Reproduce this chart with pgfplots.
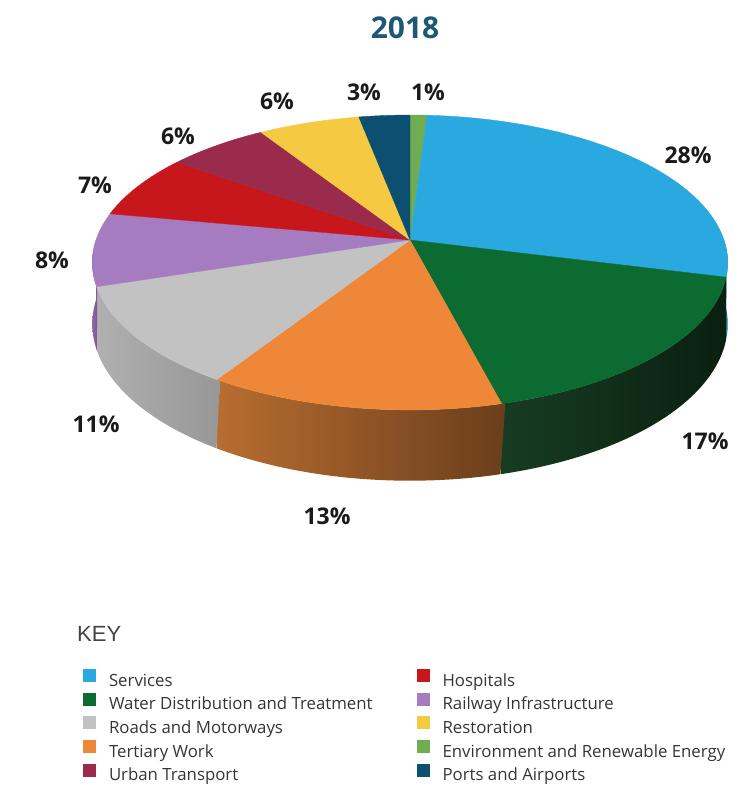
\documentclass[border=0pt]{standalone}
\usepackage{fontspec}
\setmainfont{Open Sans}
\newfontfamily\keyfont{Liberation Sans}
\usepackage{pgfplots}
\pgfplotsset{compat=1.18}

\definecolor{services}{HTML}{2AA8E0}
\definecolor{water}{HTML}{0B6B31}
\definecolor{tertiary}{HTML}{EE8838}
\definecolor{roads}{HTML}{C2C2C2}
\definecolor{railway}{HTML}{A67CC1}
\definecolor{hospitals}{HTML}{C8161D}
\definecolor{urban}{HTML}{9B2B4D}
\definecolor{restoration}{HTML}{F5C942}
\definecolor{envg}{HTML}{70AD52}
\definecolor{ports}{HTML}{0C4F70}
\definecolor{titleblue}{HTML}{1D5877}
\definecolor{labblack}{HTML}{1A1A1A}
\definecolor{legendgray}{HTML}{353535}
\definecolor{keygray}{HTML}{444444}
\definecolor{servsideA}{HTML}{1F80AD}
\definecolor{servsideB}{HTML}{186A8F}
\definecolor{watersideA}{HTML}{173C22}
\definecolor{watersideB}{HTML}{0A2010}
\definecolor{tertsideA}{HTML}{B86D30}
\definecolor{tertsideB}{HTML}{6A3E1C}
\definecolor{roadsideA}{HTML}{B0B0B0}
\definecolor{roadsideB}{HTML}{979797}
\definecolor{railsideA}{HTML}{8E67A8}
\definecolor{railsideB}{HTML}{7C5694}

\tikzset{
  envg side/.style={fill=envg!60!black},
  services side/.style={left color=servsideA, right color=servsideB},
  water side/.style={left color=watersideA, right color=watersideB},
  tertiary side/.style={left color=tertsideA, right color=tertsideB},
  roads side/.style={left color=roadsideA, right color=roadsideB},
  railway side/.style={left color=railsideA, right color=railsideB},
  hospitals side/.style={fill=hospitals!70!black},
  urban side/.style={fill=urban!70!black},
  restoration side/.style={fill=restoration!70!black},
  ports side/.style={fill=ports!70!black},
  lab/.style={font=\fontsize{23}{27}\selectfont\bfseries, text=labblack},
}
\pgfplotsset{sq/.style={legend image code/.code={\fill[##1, draw=none] (0pt,-0.5pt) rectangle (13pt,12.5pt);}}}

% running cumulative percentage
\gdef\cumpct{0}
\newcommand\topslice[2]{%
  \pgfmathsetmacro\angA{90-3.6*\cumpct}%
  \pgfmathsetmacro\cumnew{\cumpct+#1}%
  \xdef\cumpct{\cumnew}%
  \pgfmathsetmacro\angB{90-3.6*\cumpct}%
  \edef\tmp{\noexpand\addplot[forget plot, fill=#2, draw=#2, line width=0.4pt, line join=round, domain=\angB:\angA, samples=60] ({px(x)},{py(x)}) -- (axis cs:410,240) -- cycle;}%
  \tmp}
\newcommand\sideslice[2]{%
  \pgfmathsetmacro\angA{90-3.6*\cumpct}%
  \pgfmathsetmacro\cumnew{\cumpct+#1}%
  \xdef\cumpct{\cumnew}%
  \pgfmathsetmacro\angB{90-3.6*\cumpct}%
  \pgfmathsetmacro\lo{max(\angB,-180)}%
  \pgfmathsetmacro\hi{min(\angA+0.6,0.6)}%
  \ifdim\lo pt<\hi pt
    \edef\tmp{\noexpand\addplot[forget plot, #2 side, draw=none, domain=0:2, samples=121] ({px(ph(x,\lo,\hi))},{py(ph(x,\lo,\hi))+(x>1)*60/den(ph(x,\lo,\hi))}) -- cycle;}%
    \tmp
  \fi}

\begin{document}
\begin{tikzpicture}[declare function={
    den(\t)=1+0.1525*sin(\t);
    px(\t)=410+314*cos(\t)/den(\t);
    py(\t)=240-144*sin(\t)/den(\t);
    ph(\s,\a,\b)=ifthenelse(\s<1,\a+\s*(\b-\a),\b-(\s-1)*(\b-\a));
  }]
\begin{axis}[
  name=pie,
  scale only axis, width=748pt, height=795pt,
  xmin=0, xmax=748, ymin=0, ymax=795, y dir=reverse,
  hide axis, clip=false,
  legend columns=5, transpose legend,
  legend cell align=left,
  legend style={at={(axis cs:83,669)}, anchor=north west, draw=none, fill=none,
    inner sep=0pt, outer sep=0pt,
    font=\fontsize{16.8}{20}\selectfont, text=legendgray,
    row sep=2.7pt,
    nodes={inner sep=0pt, text height=13pt, text depth=4pt},
    /tikz/every odd column/.style={column sep=13pt},
    /tikz/every even column/.style={column sep=44pt}},
]
% side walls (values in percent, clockwise from 12 o'clock)
\gdef\cumpct{0}
\sideslice{1}{envg}
\sideslice{28}{services}
\sideslice{17}{water}
\sideslice{13}{tertiary}
\sideslice{11}{roads}
\sideslice{8}{railway}
\sideslice{7}{hospitals}
\sideslice{6}{urban}
\sideslice{6}{restoration}
\sideslice{3}{ports}
% top faces
\gdef\cumpct{0}
\topslice{1}{envg}
\topslice{28}{services}
\topslice{17}{water}
\topslice{13}{tertiary}
\topslice{11}{roads}
\topslice{8}{railway}
\topslice{7}{hospitals}
\topslice{6}{urban}
\topslice{6}{restoration}
\topslice{3}{ports}

\addlegendimage{sq, fill=services}\addlegendentry{Services}
\addlegendimage{sq, fill=water}\addlegendentry{Water Distribution and Treatment}
\addlegendimage{sq, fill=roads}\addlegendentry{Roads and Motorways}
\addlegendimage{sq, fill=tertiary}\addlegendentry{Tertiary Work}
\addlegendimage{sq, fill=urban}\addlegendentry{Urban Transport}
\addlegendimage{sq, fill=hospitals}\addlegendentry{Hospitals}
\addlegendimage{sq, fill=railway}\addlegendentry{Railway Infrastructure}
\addlegendimage{sq, fill=restoration}\addlegendentry{Restoration}
\addlegendimage{sq, fill=envg}\addlegendentry{Environment and Renewable Energy}
\addlegendimage{sq, fill=ports}\addlegendentry{Ports and Airports}

\node[font=\fontsize{30}{36}\selectfont\bfseries, text=titleblue] at (axis cs:405,28) {2018};
\node[lab] at (axis cs:688,155) {28\%};
\node[lab] at (axis cs:705,441) {17\%};
\node[lab] at (axis cs:327,516) {13\%};
\node[lab] at (axis cs:96,424) {11\%};
\node[lab] at (axis cs:52,260) {8\%};
\node[lab] at (axis cs:95,185) {7\%};
\node[lab] at (axis cs:178,136) {6\%};
\node[lab] at (axis cs:277,101) {6\%};
\node[lab] at (axis cs:364,92) {3\%};
\node[lab] at (axis cs:428,92) {1\%};
\node[anchor=west, inner sep=0pt, font=\keyfont\fontsize{22}{26}\selectfont, text=keygray] at (axis cs:77,634) {KEY};
\end{axis}
\pgfresetboundingbox
\path (pie.south west) rectangle (pie.north east);
\end{tikzpicture}
\end{document}
